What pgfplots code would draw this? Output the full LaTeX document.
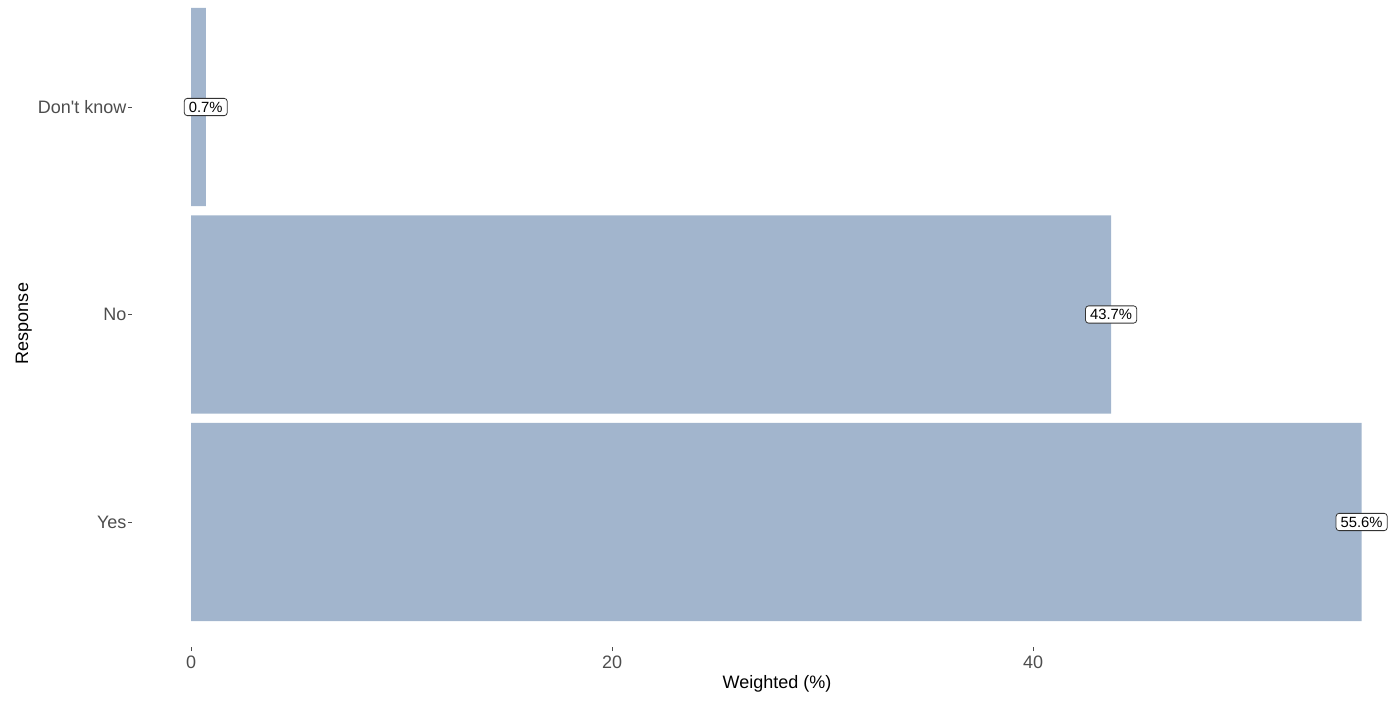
\documentclass[border=0pt]{standalone}
\usepackage{fontspec}
\setmainfont{Liberation Sans}
\usepackage{pgfplots}
\pgfplotsset{compat=1.18}
\definecolor{barcol}{HTML}{A2B5CD}
\definecolor{tickgrey}{HTML}{4D4D4D}
\begin{document}
\begin{tikzpicture}
\begin{axis}[
  at={(0,0)}, anchor=south west,
  scale only axis,
  width=632.25pt, height=323.5pt,
  xmin=-2.78, xmax=57.28,
  ymin=0.3976, ymax=3.5157,
  xbar, bar shift=0pt, bar width=0.955,
  axis line style={draw=none},
  ytick={1,2,3},
  yticklabels={Yes,No,Don\textquotesingle t know},
  xtick={0,20,40},
  xtick pos=bottom, ytick pos=left,
  tick align=outside,
  major tick length=2pt,
  tick style={tickgrey, line width=0.5pt},
  ticklabel style={font=\fontsize{9}{10}\selectfont, text=tickgrey},
  /pgf/number format/assume math mode=true,
  xticklabel style={yshift=1pt},
  yticklabel style={xshift=2.5pt},
  xlabel={Weighted (\%)},
  ylabel={Response},
  label style={font=\fontsize{9}{10}\selectfont},
  xlabel style={at={(rel axis cs:0.5097,0)}, anchor=north, yshift=-14pt, inner sep=0pt},
  ylabel style={inner sep=0pt},
  ylabel shift=-0.5pt,
  clip=false,
  point meta=explicit symbolic,
  nodes near coords,
  every node near coord/.style={anchor=center, font=\fontsize{7.4}{8}\selectfont, fill=white, draw=black!80, line width=0.4pt, rounded corners=1.5pt, inner xsep=2.3pt, inner ysep=1.7pt, text=black},
]
\addplot[fill=barcol, draw=none] coordinates {
  (55.6,1) [55.6\%]
  (43.7,2) [43.7\%]
  (0.7,3) [0.7\%]
};
\end{axis}
\useasboundingbox (-66.25pt,-28pt) rectangle (632.25pt,323.5pt);
\end{tikzpicture}
\end{document}
